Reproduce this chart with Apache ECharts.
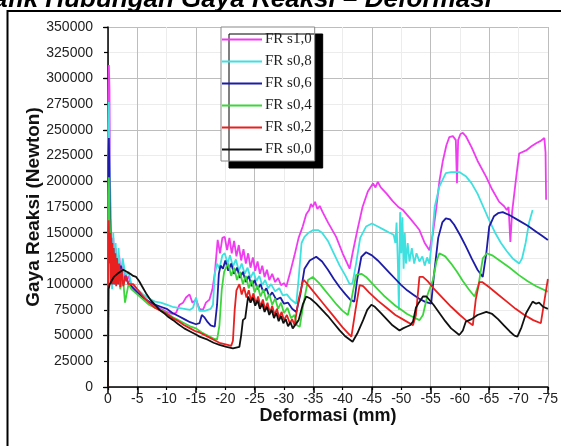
<!DOCTYPE html>
<html>
<head>
<meta charset="utf-8">
<script src="https://cdn.jsdelivr.net/npm/echarts@6/dist/echarts.min.js"></script>
<style>
html,body{margin:0;padding:0;background:#fff;}
#chart{width:561px;height:446px;}
</style>
</head>
<body>
<div id="chart"></div>
<script>
// Deformation values are given as positive mm and negated (axis runs 0 to -75)
var seriesNames = ['FR s1,0','FR s0,8','FR s0,6','FR s0,4','FR s0,2','FR s0,0'];
var seriesColors = ['#f03cf0','#3fe0e0','#1c1ca8','#3cd63c','#e82020','#111111'];
var xTickLabels = ['0','-5','-10','-15','-20','-25','-30','-35','-40','-45','-50','-55','-60','-65','-70','-75'];

var frS10 = [[0,0],[0.05,280000],[0.15,313000],[0.25,290000],[0.35,200000],[0.5,150000],[0.7,120000],[0.9,145000],[1.1,115000],[1.3,135000],[1.6,110000],[1.9,128000],[2.2,108000],[2.6,118000],[3,103000],[3.5,108000],[4,97000],[5,92000],[6,87000],[7,82000],[8,79000],[9,76000],[10,73000],[11,71000],[11.6,72000],[12.2,80000],[12.8,82000],[13.3,87000],[13.9,90000],[14.4,82000],[15,85000],[15.6,76000],[16.2,75000],[16.7,82000],[17.3,85000],[17.8,95000],[18.2,110000],[18.7,143000],[19.1,130000],[19.5,145000],[19.9,146000],[20.3,133000],[20.7,145000],[21.1,130000],[21.5,142000],[21.9,127000],[22.3,138000],[22.7,123000],[23.1,134000],[23.5,120000],[23.9,130000],[24.3,116000],[24.7,126000],[25.1,113000],[25.5,122000],[25.9,110000],[26.3,118000],[26.7,107000],[27.1,114000],[27.5,104000],[28,110000],[28.5,102000],[29,106000],[29.5,99000],[30,101000],[30.4,97500],[31,110000],[31.8,128000],[32.5,145000],[33.2,156000],[33.8,168000],[34.3,172000],[34.6,178000],[34.9,175000],[35.3,180000],[35.7,173000],[36.1,176000],[36.6,170000],[37.5,160000],[38.9,146000],[40,130000],[41.2,115000],[41.7,130000],[42.5,152000],[43.4,175000],[44.3,190000],[45.2,198000],[45.6,194000],[46,199500],[46.5,194000],[47.5,188000],[48.5,181000],[49.5,175000],[50.3,172000],[51.5,164000],[52.5,157000],[53.1,152600],[54,140000],[54.8,133000],[55.4,149000],[56,175000],[56.5,200000],[57.1,220000],[57.7,235000],[58.2,243000],[58.8,244000],[59.3,240000],[59.5,198000],[59.7,240000],[60.1,246000],[60.5,247000],[61,244000],[62,233000],[63,220000],[64.5,204000],[65.5,192000],[66.7,180000],[67.5,176000],[68,172000],[68.3,175000],[68.6,141000],[68.9,170000],[69.6,204000],[70.1,227000],[71.3,230000],[72.2,234000],[73,237000],[73.7,239000],[74.4,242000],[74.6,228000],[74.7,182000]];

var frS08 = [[0,0],[0.05,250000],[0.15,277000],[0.3,200000],[0.5,140000],[0.7,95000],[0.9,150000],[1.1,100000],[1.3,140000],[1.5,105000],[1.8,135000],[2.1,105000],[2.5,125000],[3,108000],[3.5,112000],[4,100000],[5,95000],[6,90000],[7,86000],[8,83000],[9,82000],[10,80000],[11,78000],[12,77000],[13,76000],[14,75000],[14.5,77000],[15,87000],[15.3,80000],[15.6,74000],[16.5,74000],[17.5,76000],[17.9,80000],[18.2,110000],[18.6,120000],[19,115000],[19.5,128000],[19.9,130000],[20.4,120000],[20.8,128000],[21.3,117000],[21.8,124000],[22.3,113000],[22.8,120000],[23.3,110000],[23.8,116000],[24.3,106000],[24.8,112000],[25.3,103000],[25.8,108000],[26.3,99000],[26.8,104000],[27.3,96000],[27.8,100000],[28.5,93000],[29.2,96000],[29.8,89000],[30.5,90000],[31.2,85000],[32.1,81000],[32.5,105000],[33,140000],[33.5,146000],[34.2,150000],[35,152600],[35.8,152600],[36.5,150000],[37.5,142000],[38.5,130000],[39.5,118000],[40.5,108000],[41.2,100000],[41.7,101000],[42.3,120000],[43,145000],[44,156000],[45,159000],[46,156000],[47,153000],[48,150000],[48.7,148000],[49,140000],[49.2,160000],[49.4,125000],[49.6,75000],[49.8,170000],[50,130000],[50.2,165000],[50.4,115000],[50.6,150000],[50.8,120000],[51.1,140000],[51.4,122000],[51.8,135000],[52.2,120000],[52.6,130000],[53.1,122000],[53.6,127000],[54,118000],[54.4,126000],[54.8,120000],[55.2,140000],[55.7,175000],[56.5,195000],[57.6,208000],[58.5,209000],[59.9,209000],[61,205000],[62,198000],[63,188000],[64,175000],[65,162000],[66,150000],[67,140000],[68,132000],[69,125000],[70.1,120000],[70.6,125000],[71.2,140000],[71.8,160000],[72.4,172000]];

var frS06 = [[0,0],[0.05,220000],[0.15,242000],[0.3,180000],[0.5,130000],[0.7,100000],[0.9,135000],[1.2,100000],[1.5,125000],[1.8,100000],[2.2,118000],[2.6,100000],[3,108000],[3.5,100000],[4,98000],[5,92000],[6,87000],[7,83000],[8,80000],[9,78000],[10,76000],[11,72000],[12,69000],[13,66000],[14,63000],[15,61000],[15.6,62000],[16,70000],[16.4,68000],[17,63000],[17.5,60000],[18.2,58600],[18.6,80000],[18.9,110000],[19.2,118000],[19.6,115000],[20,123000],[20.5,113000],[21,120000],[21.5,110000],[22,116000],[22.5,106000],[23,112000],[23.5,102000],[24,108000],[24.5,98000],[25,104000],[25.5,95000],[26,100000],[26.5,92000],[27,96000],[27.5,88000],[28,92000],[28.7,85000],[29.4,87000],[30,81000],[30.7,82000],[31.4,76000],[32.1,73000],[32.8,90000],[33.5,115000],[34.4,123000],[35.5,126600],[36.5,122000],[37.5,114000],[38.5,105000],[39.5,97000],[40.5,90000],[41.3,85000],[42,83000],[42.5,105000],[43.2,126600],[44,131000],[45,128000],[46,123000],[47,117000],[48,111000],[49,105000],[50,99000],[51,94000],[52,90000],[53,86000],[54,83000],[55.1,81000],[55.6,110000],[56.3,145000],[57,160000],[57.6,164000],[58.3,163000],[59,158000],[60,148000],[61,137000],[62,125000],[63,114000],[63.9,107000],[64.5,130000],[65,156000],[65.8,166000],[66.5,169000],[67.3,170000],[68.5,167000],[70,162000],[71.5,157000],[73,151000],[74,147000],[75,143000]];

var frS04 = [[0,0],[0.05,185000],[0.15,204000],[0.3,160000],[0.5,115000],[0.7,130000],[0.9,105000],[1.2,125000],[1.5,100000],[1.8,118000],[2.1,95000],[2.5,110000],[2.9,82000],[3.5,100000],[4,95000],[5,90000],[6,85000],[7,80000],[8,77000],[9,75000],[10,72000],[11,68000],[12,65000],[13,62000],[14,59000],[15,57000],[16,53000],[17,50000],[18,47000],[18.6,46000],[19,60000],[19.4,95000],[19.8,112000],[20.2,117000],[20.5,120000],[21,108000],[21.5,116000],[22,104000],[22.5,112000],[23,100000],[23.5,108000],[24,96000],[24.5,104000],[25,92000],[25.5,99000],[26,88000],[26.5,95000],[27,84000],[27.5,90000],[28,80000],[28.5,86000],[29,76000],[29.5,82000],[30,72000],[30.6,77000],[31.2,67000],[31.8,70000],[32.2,60000],[32.7,58600],[33.3,80000],[34.1,104000],[34.9,107000],[36,101000],[37,94000],[38,87000],[39,80000],[40,74000],[40.9,70000],[41.5,85000],[42.3,109000],[43.2,110000],[44,107000],[45,101000],[46,95000],[47,89000],[48,84000],[49,79000],[50,75000],[51,71000],[52,68000],[53.1,65000],[53.7,70000],[54.5,90000],[55.4,104000],[56,122000],[56.5,130000],[57.5,127000],[58.5,120000],[59.5,112000],[60.5,103000],[61.5,95000],[62.5,88000],[63.2,100000],[63.9,125000],[64.6,130000],[65.5,128000],[67,122000],[68.5,116000],[70,109000],[71.5,103000],[73,98000],[75,92700]];

var frS02 = [[0,0],[0.05,150000],[0.12,162000],[0.25,120000],[0.35,150000],[0.45,100000],[0.55,145000],[0.65,105000],[0.75,140000],[0.85,100000],[0.95,135000],[1.1,100000],[1.25,130000],[1.4,98000],[1.55,125000],[1.7,100000],[1.9,120000],[2.1,97000],[2.3,115000],[2.6,98000],[3,108000],[3.5,100000],[4.3,100000],[5,95000],[6,88000],[7,82000],[8,77000],[9,74000],[9.9,71600],[11,67000],[12,64000],[13,60000],[14,57000],[15,54000],[15.6,53000],[17,49000],[18,46000],[19,43000],[20.4,41000],[21,40000],[21.3,45000],[21.6,75000],[21.9,94000],[22.4,100000],[22.8,90000],[23.2,97000],[23.6,87000],[24,94000],[24.4,84000],[24.8,91000],[25.2,81000],[25.6,88000],[26,78000],[26.4,85000],[26.8,75000],[27.2,82000],[27.6,72000],[28,79000],[28.4,70000],[28.8,76000],[29.2,67000],[29.6,73000],[30,65000],[30.5,70000],[31,62000],[31.4,66000],[31.8,60000],[32.5,85000],[33.2,102000],[33.4,104000],[34,100000],[35,93000],[36,86000],[37,79000],[38,72000],[39,65000],[40,58000],[41,52000],[41.5,49000],[42.2,75000],[42.9,99000],[43.5,98000],[44.5,92000],[46,84000],[47.5,77000],[49,70000],[50.5,65000],[52,60000],[52.5,70000],[53.1,107000],[53.7,107000],[54.5,103000],[55.5,96000],[57,87000],[58.5,78000],[60,70000],[61,65000],[62.2,60000],[62.7,85000],[63.3,102000],[63.8,102000],[65,97000],[66.5,90000],[68,83000],[69.5,76000],[71,70000],[72.5,65000],[73.8,62000],[74.3,80000],[75,105000]];

var frS00 = [[0,0],[0.1,95000],[0.3,100000],[0.6,103000],[1,107000],[1.6,110000],[2.1,112000],[2.6,114000],[3.2,112000],[3.8,110000],[4.3,108000],[4.8,107000],[5.3,103000],[5.8,98000],[6.5,91000],[7.2,85000],[8,80000],[8.8,75000],[9.5,72000],[10.3,68000],[11.1,65000],[12,61000],[13,57000],[14,54000],[15,51000],[15.6,49000],[17,46000],[18,43000],[19,41000],[20.2,39000],[21.3,37600],[22.4,39000],[22.7,50000],[23,65000],[23.4,67000],[23.7,80000],[23.9,88000],[24.3,82000],[24.7,87000],[25.1,79000],[25.5,84000],[25.9,76000],[26.3,81000],[26.7,73000],[27.1,78000],[27.5,70000],[27.9,75000],[28.3,67000],[28.7,72000],[29.1,64000],[29.5,69000],[29.9,62000],[30.3,66000],[30.7,59000],[31.1,63000],[31.5,57000],[31.8,57000],[32.5,65000],[33.2,80000],[33.8,88000],[34.5,86000],[35.5,81000],[36.5,75000],[37.5,69000],[38.5,62000],[39.5,55000],[40.5,49000],[41.7,44000],[42.5,52000],[43.5,65000],[44.2,75000],[44.9,80000],[45.5,78000],[46.5,72000],[47.5,66000],[48.5,60000],[49.7,55000],[50.3,57000],[50.9,58600],[51.5,60000],[52,63500],[52.5,77000],[53,82000],[53.7,88000],[54.3,88000],[55.5,80000],[56.5,72000],[57.5,64000],[58.5,57000],[59.9,50500],[60.5,55000],[61,63500],[62,66000],[63,70000],[64.5,73000],[65.5,71000],[66.5,66000],[67.5,60000],[68.5,54000],[69.3,50000],[69.8,49000],[70.5,58000],[71.3,72000],[72.4,83000],[73,81000],[73.5,82000],[74.2,78000],[75,76000]];

var allData = [frS10, frS08, frS06, frS04, frS02, frS00];

function toNeg(arr){ return arr.map(function(p){ return [-p[0], p[1]]; }); }

var chart = echarts.init(document.getElementById('chart'), null, {renderer:'canvas'});
var labelFont = '"Liberation Sans", Arial, sans-serif';
var lineIcon = 'path://M0,0 L40,0 L40,2 L0,2 Z';

var series = allData.map(function(d, i){
  return {
    name: seriesNames[i],
    type: 'line',
    xAxisIndex: 0,
    yAxisIndex: 0,
    data: toNeg(d),
    symbol: 'none',
    showSymbol: false,
    animation: false,
    lineStyle: {color: seriesColors[i], width: 1.8},
    itemStyle: {color: seriesColors[i]},
    z: 3 + i
  };
});

var option = {
  animation: false,
  backgroundColor: '#ffffff',
  grid: {left: 108, top: 27, width: 441, height: 360, containLabel: false},
  legend: {
    orient: 'vertical',
    left: 221,
    top: 27,
    data: seriesNames.map(function(n){ return {name: n, icon: lineIcon}; }),
    itemWidth: 40,
    itemHeight: 14,
    itemGap: 7,
    padding: [5, 3, 4, 1],
    backgroundColor: '#ffffff',
    borderColor: '#888',
    borderWidth: 1,
    borderRadius: 0,
    shadowColor: '#000',
    shadowBlur: 0,
    shadowOffsetX: 8,
    shadowOffsetY: 7,
    selectedMode: false,
    textStyle: {fontFamily: '"Liberation Serif", "Times New Roman", serif', fontSize: 15, color: '#222', padding: [0,0,0,-2]}
  },
  xAxis: [
    {
      type: 'value', min: -75, max: 0, interval: 5, inverse: true, position: 'bottom',
      axisLine: {show: true, onZero: false, lineStyle: {color: '#000', width: 1.5}},
      axisTick: {show: true, length: 3, lineStyle: {color: '#000', width: 1.2}},
      axisLabel: {show: true, margin: 5, fontSize: 14, color: '#222', fontFamily: labelFont,
        formatter: function(v){ var idx = Math.round(-v/5); return xTickLabels[idx] !== undefined ? xTickLabels[idx] : String(v); }},
      splitLine: {show: true, lineStyle: {color: '#ececec', width: 1}},
      name: 'Deformasi (mm)', nameLocation: 'middle', nameGap: 20, nameMoveOverlap: false,
      nameTextStyle: {fontSize: 18, fontWeight: 'bold', color: '#111', fontFamily: labelFont}
    },
    {
      type: 'value', min: -75, max: 0, interval: 10, inverse: true, position: 'bottom',
      axisLine: {show: false, onZero: false},
      axisTick: {show: true, length: 6, lineStyle: {color: '#000', width: 1.5}},
      axisLabel: {show: false},
      splitLine: {show: true, lineStyle: {color: '#bdbdbd', width: 1}}
    }
  ],
  yAxis: [
    {
      type: 'value', min: 0, max: 350000, interval: 25000, position: 'left',
      axisLine: {show: true, onZero: false, lineStyle: {color: '#000', width: 1.5}},
      axisTick: {show: true, length: 4, lineStyle: {color: '#000', width: 1.2}},
      axisLabel: {show: true, margin: 15, fontSize: 14, color: '#222', fontFamily: labelFont,
        formatter: function(v){ return String(v); }},
      splitLine: {show: true, lineStyle: {color: '#ececec', width: 1}},
      name: 'Gaya Reaksi (Newton)', nameLocation: 'middle', nameGap: 65, nameMoveOverlap: false,
      nameTextStyle: {fontSize: 19, fontWeight: 'bold', color: '#111', fontFamily: labelFont}
    },
    {
      type: 'value', min: 0, max: 350000, interval: 50000, position: 'left',
      axisLine: {show: false, onZero: false},
      axisTick: {show: true, length: 5, lineStyle: {color: '#000', width: 1.2}},
      axisLabel: {show: false},
      splitLine: {show: true, lineStyle: {color: '#bdbdbd', width: 1}}
    }
  ],
  graphic: [
    {
      type: 'rect', silent: true, z: 0,
      shape: {x: 7.5, y: 11, width: 600, height: 500},
      style: {fill: 'none', stroke: '#000', lineWidth: 2}
    },
    {
      type: 'text', silent: true, z: 100,
      x: -37, y: -13,
      style: {text: 'Grafik Hubungan Gaya Reaksi – Deformasi', font: 'italic bold 26px "Liberation Sans", Arial, sans-serif', fill: '#000', textAlign: 'left', textVerticalAlign: 'top'}
    }
  ],
  series: series
};
chart.setOption(option);
</script>
</body>
</html>
